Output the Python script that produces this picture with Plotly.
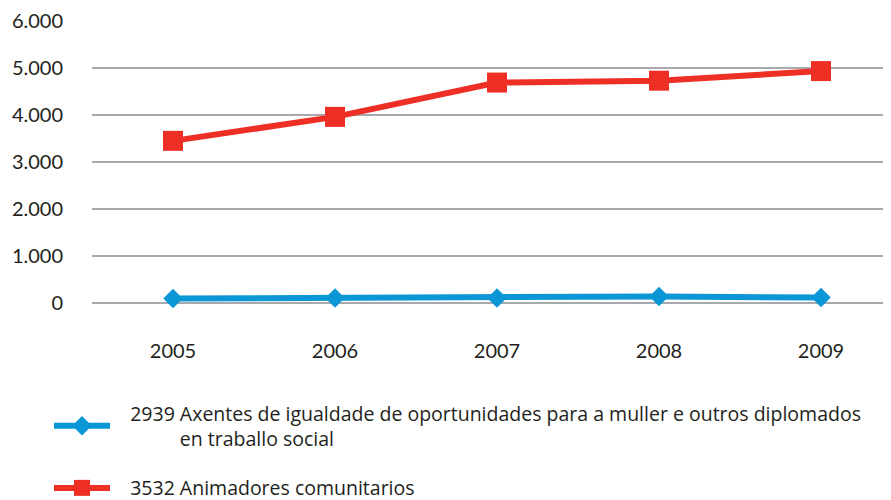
import plotly.graph_objects as go

years = ["2005", "2006", "2007", "2008", "2009"]
axentes = [95, 105, 105, 140, 115]
animadores = [3450, 3960, 4690, 4730, 4935]
pad = "\u00a0\u00a0\u00a0"
name_axentes = (pad + "2939 Axentes de igualdade de oportunidades para a muller e outros diplomados<br>"
                + pad + "\u2007\u2007\u2007\u2007 en traballo social")
name_animadores = pad + "3532 Animadores comunitarios"
y_ticks = [0, 1000, 2000, 3000, 4000, 5000, 6000]

RED = "#EE2F25"
BLUE = "#0B96D5"
GRID = "#A7A9AC"
FONT = "Lato"
LFONT = "Open Sans"

fig = go.Figure()
fig.add_trace(go.Scatter(
    x=years, y=axentes, name=name_axentes, mode="lines+markers",
    line=dict(color=BLUE, width=6),
    marker=dict(symbol="diamond", size=15, color=BLUE),
    cliponaxis=False, legendgroup="a",
))
fig.add_trace(go.Scatter(
    x=years, y=animadores, name=name_animadores, mode="lines+markers",
    line=dict(color=RED, width=6),
    marker=dict(symbol="square", size=20, color=RED),
    cliponaxis=False, legendgroup="b",
))

fig.update_layout(
    width=883, height=492,
    margin=dict(l=84, r=0, t=13, b=197, autoexpand=False),
    paper_bgcolor="white", plot_bgcolor="white",
    separators=",.",
    font=dict(family=FONT, size=20, color="#231F20"),
    showlegend=True,
    legend=dict(
        xref="container", yref="container",
        x=41 / 883, y=1 - 386 / 492, xanchor="left", yanchor="top",
        font=dict(family=LFONT, size=19.5, color="#231F20"),
        tracegroupgap=21, itemwidth=56,
        bgcolor="rgba(0,0,0,0)",
    ),
    xaxis=dict(
        type="category", range=[-0.5, 4.432],
        showgrid=False, zeroline=False, showline=False,
        ticks="", ticklabelstandoff=34, tickangle=0,
        tickfont=dict(family=FONT, size=20),
        fixedrange=True,
    ),
    yaxis=dict(
        range=[0, 6000], tickvals=y_ticks, tickformat=",d",
        showgrid=True, gridcolor=GRID, gridwidth=1.6,
        zeroline=True, zerolinecolor=GRID, zerolinewidth=1.6,
        showline=False, ticks="", ticklabelstandoff=28,
        tickfont=dict(family=FONT, size=20),
        fixedrange=True,
    ),
)

fig.write_html("out.html")
